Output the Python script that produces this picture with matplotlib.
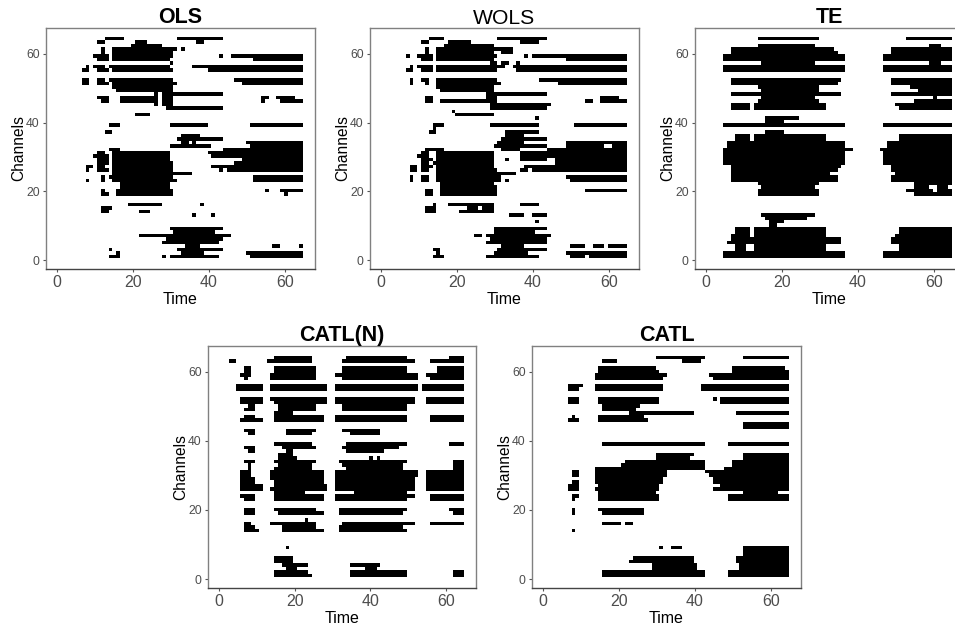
import numpy as np
import matplotlib
matplotlib.use("Agg")
import matplotlib.pyplot as plt

plt.rcParams['font.family'] = ['Liberation Sans', 'DejaVu Sans']

# channel -> black runs (first time, last time)
OLS = {
    64: [(13, 17), (32, 43)], 63: [(11, 12), (21, 23), (37, 38)], 62: [(20, 27)],
    61: [(12, 12), (15, 31), (33, 33)], 60: [(12, 12), (15, 30)],
    59: [(10, 13), (15, 30), (43, 43), (46, 64)], 58: [(11, 13), (15, 29), (52, 64)],
    57: [(30, 30)], 56: [(8, 8), (10, 12), (14, 29), (36, 64)],
    55: [(7, 8), (11, 13), (15, 30), (40, 64)],
    52: [(7, 8), (11, 12), (14, 30), (47, 64)], 51: [(7, 8), (11, 13), (15, 31), (49, 64)],
    50: [(15, 30)], 49: [(16, 30)], 48: [(26, 26), (28, 43)],
    47: [(11, 13), (17, 26), (28, 30), (54, 55), (58, 62)],
    46: [(12, 13), (17, 26), (28, 30), (54, 54), (59, 64)],
    45: [(26, 26), (28, 30)], 44: [(29, 43)], 42: [(21, 24)],
    39: [(14, 16), (30, 39), (51, 64)], 37: [(13, 14)], 36: [(33, 37)],
    35: [(32, 43)], 34: [(33, 34), (36, 36), (50, 64)], 33: [(30, 40), (51, 64)],
    32: [(14, 16), (44, 64)], 31: [(11, 12), (15, 29), (40, 64)],
    30: [(10, 13), (15, 29), (41, 64)], 29: [(11, 13), (15, 29), (49, 64)],
    28: [(11, 13), (15, 30), (47, 64)], 27: [(8, 9), (11, 12), (15, 30), (41, 64)],
    26: [(8, 8), (11, 13), (15, 30), (43, 43), (45, 64)], 25: [(15, 35)],
    24: [(12, 12), (14, 30), (52, 64)], 23: [(8, 8), (12, 12), (15, 31), (52, 64)],
    22: [(17, 29)], 21: [(17, 29)], 20: [(12, 12), (16, 30), (55, 55), (59, 64)],
    19: [(12, 13), (16, 30), (60, 60)], 16: [(19, 27), (38, 38)], 15: [(12, 14)],
    14: [(12, 13), (22, 24)], 13: [(36, 36), (41, 41)], 9: [(30, 43)], 8: [(31, 41)],
    7: [(22, 45)], 6: [(29, 43)], 5: [(28, 42)], 4: [(34, 37), (57, 58), (64, 64)],
    3: [(14, 14), (32, 43)], 2: [(16, 16), (33, 38), (50, 64)],
    1: [(14, 16), (28, 28), (30, 42), (51, 64)],
}
WOLS = {
    64: [(13, 16), (31, 43)], 63: [(11, 12), (18, 23), (37, 41)], 62: [(17, 29)],
    61: [(12, 12), (15, 34)], 60: [(12, 12), (15, 29), (32, 34)],
    59: [(7, 7), (10, 13), (15, 30), (38, 38), (40, 64)], 58: [(11, 13), (15, 29), (49, 64)],
    57: [(29, 30), (32, 33), (36, 36)], 56: [(8, 8), (10, 13), (15, 32), (35, 64)],
    55: [(7, 8), (11, 13), (15, 30), (36, 64)],
    52: [(8, 8), (11, 12), (15, 30), (42, 64)], 51: [(8, 8), (12, 12), (15, 31), (47, 64)],
    50: [(15, 29)], 49: [(16, 29)], 48: [(28, 43)], 47: [(12, 13), (28, 30), (58, 62)],
    46: [(12, 13), (16, 30), (54, 55), (58, 64)], 45: [(29, 44)], 44: [(29, 43)],
    43: [(19, 19)], 42: [(20, 29)], 41: [(41, 41)], 39: [(14, 16), (29, 41), (51, 64)],
    38: [(14, 14)], 37: [(13, 14), (33, 41)], 36: [(33, 37)], 35: [(32, 43)],
    34: [(31, 37), (49, 64)], 33: [(30, 43), (49, 58), (61, 64)],
    32: [(12, 16), (32, 36), (44, 64)], 31: [(11, 12), (15, 29), (37, 64)],
    30: [(10, 12), (15, 29), (37, 64)], 29: [(11, 13), (15, 29), (33, 33), (37, 43), (46, 64)],
    28: [(11, 12), (14, 29), (46, 64)], 27: [(8, 9), (11, 13), (15, 29), (38, 64)],
    26: [(8, 9), (11, 12), (15, 30), (37, 38), (40, 64)], 25: [(15, 35)],
    24: [(8, 8), (11, 12), (15, 31), (49, 64)], 23: [(8, 8), (11, 12), (15, 31), (33, 33), (50, 64)],
    22: [(16, 29)], 21: [(16, 30)], 20: [(12, 13), (16, 30), (54, 64)],
    19: [(12, 13), (16, 30)], 16: [(14, 14), (18, 29), (37, 41)],
    15: [(12, 14), (23, 25), (27, 29)], 14: [(12, 14), (21, 29)],
    13: [(34, 37), (40, 43)], 11: [(41, 41)], 9: [(30, 43)], 8: [(30, 40)],
    7: [(25, 26), (28, 44)], 6: [(29, 43)], 5: [(28, 43)],
    4: [(32, 37), (50, 53), (56, 58), (60, 64)], 3: [(14, 15), (31, 43)],
    2: [(15, 15), (30, 38), (49, 64)], 1: [(14, 16), (28, 41), (50, 53), (55, 64)],
}
TE = {
    64: [(14, 29), (53, 64)], 62: [(14, 28), (59, 61)], 61: [(7, 33), (49, 64)],
    60: [(7, 34), (49, 64)], 59: [(5, 36), (47, 64)], 58: [(5, 36), (47, 64)],
    57: [(15, 28), (59, 61)], 56: [(5, 36), (47, 64)], 55: [(5, 36), (47, 64)],
    52: [(7, 35), (49, 64)], 51: [(7, 34), (49, 64)], 50: [(14, 29), (54, 64)],
    49: [(15, 29), (56, 64)], 48: [(7, 35), (49, 64)], 47: [(15, 28), (60, 60)],
    46: [(14, 29), (55, 64)], 45: [(7, 11), (13, 31), (50, 64)],
    44: [(7, 11), (13, 31), (51, 64)], 41: [(16, 24)], 40: [(16, 20)],
    39: [(5, 36), (47, 64)], 37: [(16, 20)], 36: [(8, 11), (13, 31), (51, 64)],
    35: [(8, 11), (13, 31), (51, 64)], 34: [(6, 36), (48, 64)], 33: [(6, 36), (48, 64)],
    32: [(5, 38), (46, 64)], 31: [(5, 36), (47, 64)], 30: [(5, 36), (47, 64)],
    29: [(5, 36), (47, 64)], 28: [(5, 36), (47, 64)], 27: [(7, 35), (49, 64)],
    26: [(7, 34), (49, 64)], 25: [(7, 32), (50, 64)], 24: [(7, 34), (49, 64)],
    23: [(7, 34), (49, 64)], 22: [(14, 29), (55, 64)], 21: [(15, 28), (55, 58), (61, 63)],
    20: [(14, 29), (53, 59), (61, 64)], 19: [(14, 29), (55, 64)], 13: [(15, 28)],
    12: [(16, 26)], 11: [(17, 20)], 10: [(17, 18)], 9: [(8, 11), (13, 31), (51, 64)],
    8: [(8, 11), (13, 31), (51, 64)], 7: [(7, 11), (13, 31), (50, 64)],
    6: [(7, 35), (49, 64)], 5: [(6, 35), (49, 64)], 4: [(8, 10), (13, 31), (51, 64)],
    3: [(8, 10), (13, 31), (51, 64)], 2: [(5, 36), (47, 64)], 1: [(5, 36), (47, 64)],
}
CATLN = {
    64: [(15, 24), (34, 49), (61, 64)], 63: [(3, 4), (13, 24), (33, 51), (56, 64)],
    61: [(7, 8), (15, 25), (33, 49), (58, 64)], 60: [(7, 8), (15, 25), (33, 49), (58, 64)],
    59: [(6, 8), (14, 25), (31, 52), (55, 64)], 58: [(7, 7), (14, 25), (33, 52), (56, 64)],
    56: [(5, 11), (14, 28), (31, 52), (54, 64)], 55: [(5, 11), (14, 28), (31, 52), (54, 64)],
    52: [(6, 11), (14, 28), (31, 51), (55, 64)], 51: [(6, 11), (15, 28), (31, 51), (55, 64)],
    50: [(8, 9), (16, 25), (33, 49)], 49: [(7, 9), (16, 25), (33, 49)], 48: [(15, 19)],
    47: [(7, 9), (15, 27), (31, 49), (56, 64)], 46: [(6, 11), (15, 27), (31, 49), (56, 64)],
    43: [(7, 9), (18, 25), (33, 42)], 42: [(8, 9), (18, 24), (35, 42)],
    39: [(15, 24), (34, 49), (61, 64)], 38: [(7, 9), (17, 25), (33, 47)],
    37: [(8, 9), (18, 19), (34, 43)], 36: [(16, 19)], 35: [(16, 20), (40, 40), (42, 42)],
    34: [(7, 9), (15, 25), (32, 49), (62, 64)], 33: [(8, 8), (16, 24), (33, 48), (62, 64)],
    32: [(8, 8), (15, 19), (20, 24), (34, 48), (62, 64)],
    31: [(6, 8), (14, 27), (31, 52), (55, 64)], 30: [(6, 8), (14, 27), (31, 52), (55, 64)],
    29: [(6, 9), (14, 27), (31, 51), (55, 64)], 28: [(6, 9), (15, 27), (31, 51), (55, 64)],
    27: [(6, 11), (15, 28), (31, 51), (55, 64)], 26: [(6, 11), (14, 28), (31, 51), (55, 64)],
    25: [(15, 22), (36, 49)], 24: [(6, 9), (15, 27), (31, 51), (56, 64)],
    23: [(7, 9), (15, 27), (31, 49), (56, 64)], 20: [(7, 9), (15, 25), (32, 49), (61, 64)],
    19: [(7, 9), (16, 27), (32, 48), (62, 64)], 17: [(23, 23)],
    16: [(7, 8), (14, 25), (33, 51), (56, 64)], 15: [(7, 9), (17, 25), (32, 48)],
    14: [(7, 10), (17, 27), (32, 49)], 9: [(18, 18)], 6: [(15, 19)], 5: [(15, 19)],
    4: [(17, 23), (35, 42)], 3: [(18, 20), (39, 41)], 2: [(15, 23), (35, 49), (62, 64)],
    1: [(15, 24), (35, 49), (62, 64)],
}
CATL = {
    64: [(30, 42), (53, 64)], 63: [(16, 19), (37, 41)], 61: [(15, 29), (50, 63)],
    60: [(15, 30), (50, 64)], 59: [(14, 32), (44, 64)], 58: [(14, 31), (45, 64)],
    56: [(7, 10), (14, 31), (42, 64)], 55: [(7, 9), (14, 31), (42, 64)],
    52: [(7, 9), (15, 30), (45, 45), (47, 64)], 51: [(7, 9), (15, 30), (47, 64)],
    50: [(16, 25)], 49: [(16, 24)], 48: [(23, 39), (51, 64)], 47: [(8, 8), (15, 26)],
    46: [(7, 9), (15, 27)], 45: [(53, 64)], 44: [(53, 64)], 39: [(16, 42), (49, 64)],
    36: [(30, 39), (53, 64)], 35: [(30, 38), (53, 64)], 34: [(22, 42), (50, 64)],
    33: [(21, 42), (50, 64)], 32: [(14, 42), (48, 64)], 31: [(8, 9), (14, 32), (43, 64)],
    30: [(8, 9), (14, 32), (44, 64)], 29: [(14, 31), (45, 64)],
    28: [(8, 9), (14, 31), (45, 64)], 27: [(7, 9), (15, 30), (47, 64)],
    26: [(7, 9), (14, 30), (45, 64)], 25: [(15, 29), (53, 61)],
    24: [(8, 9), (15, 30), (49, 64)], 23: [(8, 8), (15, 30), (49, 64)],
    20: [(8, 8), (15, 26)], 19: [(8, 8), (16, 26)], 16: [(16, 20), (22, 23)], 14: [(8, 8)],
    9: [(31, 31), (34, 36), (53, 64)], 8: [(53, 64)], 7: [(53, 64)],
    6: [(24, 39), (51, 64)], 5: [(23, 39), (51, 64)], 4: [(29, 40), (52, 64)],
    3: [(29, 40), (52, 64)], 2: [(16, 42), (49, 64)], 1: [(16, 42), (49, 64)],
}

TITLES = ['OLS', 'WOLS', 'TE', 'CATL(N)', 'CATL']
PANELS = [OLS, WOLS, TE, CATLN, CATL]
# left, top, right, bottom of each panel in pixels
BOXES = [(46, 28, 315, 269), (370, 28, 639, 269), (695, 28, 964, 269),
         (208, 346, 476, 588), (532, 346, 801, 588)]
W, H = 955, 626


def to_matrix(runs):
    m = np.zeros((64, 64))
    for ch in runs:
        for a, b in runs[ch]:
            m[ch - 1, a - 1:b] = 1
    return m


fig = plt.figure(figsize=(W / 100, H / 100), dpi=100)
for title, runs, box in zip(TITLES, PANELS, BOXES):
    l, t, r, b = box
    ax = fig.add_axes([l / W, 1 - b / H, (r - l) / W, (b - t) / H])
    ax.imshow(to_matrix(runs), cmap='binary', origin='lower', aspect='auto',
              extent=(0.5, 64.5, 0.5, 64.5), interpolation='nearest', vmin=0, vmax=1)
    ax.set_xlim(-2.9, 67.9)
    ax.set_ylim(-2.6, 67.5)
    ax.set_xticks([0, 20, 40, 60])
    ax.set_yticks([0, 20, 40, 60])
    ax.tick_params(axis='x', labelsize=11.5, labelcolor='#4d4d4d', color='#555555', length=2.5, width=0.8, pad=2)
    ax.tick_params(axis='y', labelsize=8.8, labelcolor='#4d4d4d', color='#555555', length=2.5, width=0.8, pad=2)
    for s in ax.spines.values():
        s.set_color('#808080')
        s.set_linewidth(1.0)
    ax.spines['bottom'].set_color('#444444')
    ax.set_xlabel('Time', fontsize=11.5, labelpad=1)
    ax.set_ylabel('Channels', fontsize=11.2, labelpad=0)
    if title == 'WOLS':
        ax.set_title(title, fontsize=15.2, fontweight='normal', pad=-5)
    else:
        ax.set_title(title, fontsize=15.5, fontweight='bold', pad=-1)

fig.savefig('out.png', dpi=100)
